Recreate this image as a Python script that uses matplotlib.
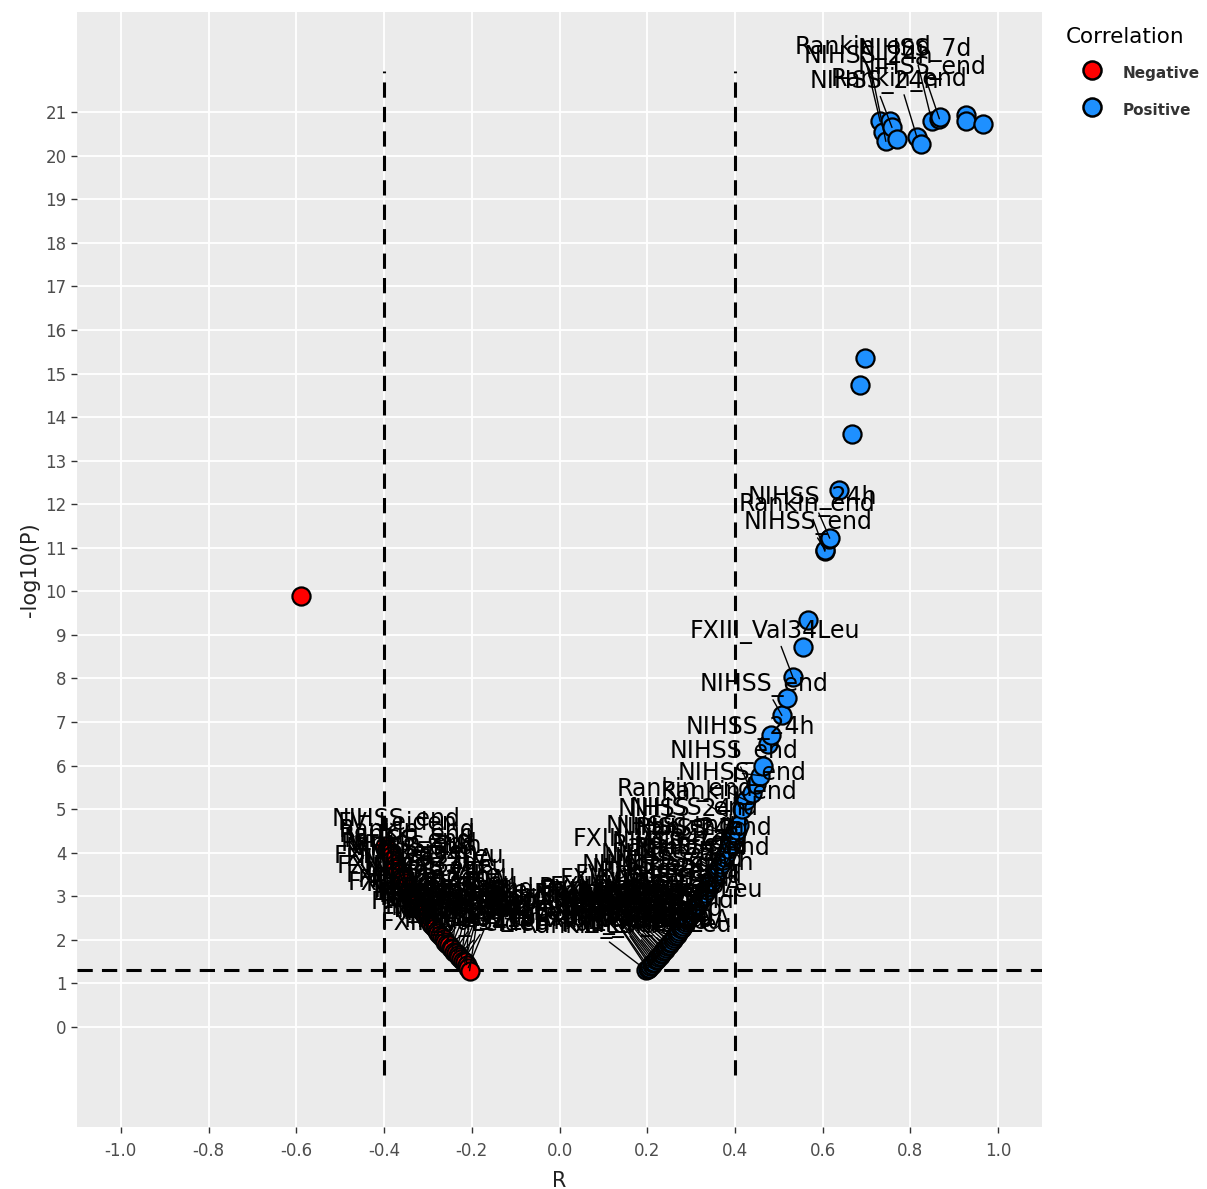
import matplotlib
matplotlib.use("Agg")
from matplotlib import pyplot as plt
from matplotlib.lines import Line2D

plt.rcParams['axes.unicode_minus'] = False

# negative correlations: R, -log10(P), label
neg_r = [-0.590,
         -0.397, -0.393, -0.389, -0.385, -0.381, -0.376, -0.372, -0.368, -0.364, -0.360,
         -0.356, -0.352, -0.348, -0.344, -0.340, -0.336, -0.332, -0.328, -0.324, -0.320,
         -0.316, -0.312, -0.308, -0.304, -0.300, -0.296, -0.292, -0.288, -0.284, -0.280,
         -0.276, -0.272, -0.268, -0.264, -0.260, -0.256, -0.252, -0.248, -0.244, -0.240,
         -0.236, -0.232, -0.228, -0.224, -0.220, -0.216, -0.212, -0.208, -0.205]
neg_p = [9.90,
         4.16, 4.08, 4.00, 3.92, 3.84, 3.75, 3.67, 3.59, 3.52, 3.45,
         3.37, 3.30, 3.23, 3.16, 3.09, 3.02, 2.96, 2.89, 2.83, 2.77,
         2.71, 2.65, 2.59, 2.53, 2.48, 2.42, 2.37, 2.31, 2.26, 2.21,
         2.16, 2.11, 2.06, 2.01, 1.96, 1.91, 1.87, 1.82, 1.78, 1.73,
         1.69, 1.64, 1.60, 1.56, 1.52, 1.48, 1.43, 1.36, 1.29]
neg_lab = ["",
           "Rankin_end", "NIHSS_end", "NIHSS_24h", "Rankin_end", "FV_Leiden",
           "FV_Leiden", "NIHSS_end", "NIHSS_7d", "FXIII_Val34Leu", "Rankin_end",
           "NIHSS_24h", "FII_G20210A", "NIHSS_end", "FXIII_Val34Leu", "NIHSS_7d",
           "Rankin_end", "FV_Leiden", "FXIII_Val34Leu", "NIHSS_24h", "FII_G20210A",
           "Rankin_end", "NIHSS_end", "FXIII_Val34Leu", "NIHSS_7d", "FV_Leiden",
           "Rankin_end", "FII_G20210A", "NIHSS_24h", "FXIII_Val34Leu", "NIHSS_end",
           "Rankin_end", "NIHSS_7d", "FXIII_Val34Leu", "FV_Leiden", "NIHSS_24h",
           "Rankin_end", "FII_G20210A", "NIHSS_end", "FXIII_Val34Leu", "NIHSS_7d",
           "Rankin_end", "FV_Leiden", "FXIII_Val34Leu", "NIHSS_24h", "Rankin_end",
           "FII_G20210A", "NIHSS_end", "FXIII_Val34Leu", "Rankin_end"]

# positive correlations
pos_r = [0.198, 0.201, 0.204, 0.207, 0.210, 0.213, 0.216, 0.219, 0.222, 0.225,
         0.228, 0.231, 0.234, 0.237, 0.240, 0.243, 0.246, 0.249, 0.252, 0.255,
         0.258, 0.261, 0.264, 0.267, 0.270, 0.273, 0.276, 0.279, 0.282, 0.285,
         0.288, 0.291, 0.294, 0.297, 0.300, 0.304, 0.308, 0.312, 0.316, 0.320,
         0.324, 0.328, 0.332, 0.336, 0.340, 0.344, 0.348, 0.352, 0.356, 0.360,
         0.364, 0.368, 0.372, 0.376, 0.380, 0.385, 0.390, 0.395, 0.400, 0.405,
         0.410,
         0.416, 0.426, 0.438, 0.447, 0.457, 0.463, 0.475, 0.483, 0.507, 0.518,
         0.532, 0.555, 0.566,
         0.605, 0.606, 0.615, 0.616, 0.637, 0.667, 0.685, 0.696,
         0.731, 0.737, 0.744, 0.753, 0.758, 0.769, 0.815, 0.824, 0.849, 0.866,
         0.868, 0.927, 0.927, 0.966]
pos_p = [1.30, 1.33, 1.36, 1.40, 1.43, 1.47, 1.50, 1.53, 1.56, 1.60,
         1.63, 1.67, 1.70, 1.74, 1.77, 1.81, 1.85, 1.88, 1.92, 1.96,
         2.00, 2.04, 2.08, 2.12, 2.16, 2.20, 2.24, 2.28, 2.32, 2.36,
         2.41, 2.45, 2.50, 2.54, 2.59, 2.65, 2.70, 2.76, 2.82, 2.89,
         2.95, 3.01, 3.08, 3.15, 3.22, 3.29, 3.36, 3.44, 3.51, 3.59,
         3.66, 3.74, 3.82, 3.90, 3.98, 4.08, 4.19, 4.30, 4.41, 4.52,
         4.63,
         5.01, 5.20, 5.38, 5.57, 5.77, 6.00, 6.49, 6.70, 7.15, 7.54,
         8.03, 8.72, 9.34,
         10.92, 10.95, 11.20, 11.22, 12.33, 13.62, 14.74, 15.36,
         20.79, 20.54, 20.33, 20.79, 20.65, 20.38, 20.42, 20.26, 20.79, 20.85,
         20.90, 20.93, 20.79, 20.74]
pos_lab = ["Rankin_end", "FII_G20210A", "NIHSS_24h", "FXIII_Val34Leu", "Rankin_end",
           "FV_Leiden", "NIHSS_7d", "FXIII_Val34Leu", "Rankin_end", "NIHSS_end",
           "FII_G20210A", "FXIII_Val34Leu", "NIHSS_24h", "Rankin_end", "FV_Leiden",
           "NIHSS_7d", "FXIII_Val34Leu", "NIHSS_end", "Rankin_end", "FII_G20210A",
           "NIHSS_24h", "FXIII_Val34Leu", "Rankin_end", "NIHSS_7d", "FV_Leiden",
           "NIHSS_end", "FXIII_Val34Leu", "Rankin_end", "NIHSS_24h", "FII_G20210A",
           "NIHSS_7d", "FXIII_Val34Leu", "Rankin_end", "NIHSS_end", "FV_Leiden",
           "NIHSS_24h", "FXIII_Val34Leu", "Rankin_end", "NIHSS_7d", "NIHSS_end",
           "FII_G20210A", "NIHSS_24h", "FXIII_Val34Leu", "Rankin_end", "NIHSS_7d",
           "NIHSS_end", "NIHSS_24h", "FXIII_Val34Leu", "NIHSS_end", "NIHSS_7d",
           "NIHSS_24h", "Rankin_end", "NIHSS_end", "NIHSS_7d", "NIHSS_24h",
           "Rankin_end", "NIHSS_7d", "NIHSS_24h", "Rankin_end", "NIHSS_end",
           "Rankin_end",
           "", "Rankin_end", "NIHSS_end", "", "NIHSS_end", "",
           "NIHSS_24h", "", "NIHSS_end", "", "FXIII_Val34Leu", "", "",
           "Rankin_end", "NIHSS_end", "", "NIHSS_24h", "", "", "", "",
           "Rankin_end", "", "NIHSS_24h", "", "NIHSS_24h", "", "Rankin_end", "",
           "NIHSS_7d", "NIHSS_end", "", "", "", ""]

RED = '#FF0000'
BLUE = '#1E90FF'


def spread(i, a):
    return ((i * a) % 1.0) - 0.5


def label_points(ax, rs, ps, labs, side):
    for i, (r, p, lab) in enumerate(zip(rs, ps, labs)):
        if not lab:
            continue
        if p < 4.7:
            # crowded region near the threshold: labels pile up in a band above
            shift = -0.095 if side > 0 else 0.04
            lx = r + shift + 0.07 * spread(i, 0.618)
            ly = max(p + 0.45, 2.75) + 0.9 * spread(i, 0.382)
        else:
            lx = r - 0.04
            ly = p + 0.6 + 0.07 * (p - 8) + 1.2 * spread(i, 0.618)
        ax.annotate(lab, xy=(r, p), xytext=(lx, ly), ha='center', va='center',
                    fontsize=17, color='black', zorder=5,
                    arrowprops=dict(arrowstyle='-', color='black', lw=1.0,
                                    shrinkA=0, shrinkB=0))


fig = plt.figure(figsize=(12.07, 11.89), dpi=100)
ax = fig.add_axes([0.0638, 0.0521, 0.7995, 0.9378])
ax.set_facecolor('#EBEBEB')
for s in ax.spines.values():
    s.set_visible(False)
ax.grid(True, color='white', linewidth=1.3)
ax.set_axisbelow(True)

ax.scatter(neg_r, neg_p, s=170, c=RED, edgecolors='black', linewidths=1.6, zorder=3)
ax.scatter(pos_r, pos_p, s=170, c=BLUE, edgecolors='black', linewidths=1.6, zorder=3)

label_points(ax, neg_r, neg_p, neg_lab, -1)
label_points(ax, pos_r, pos_p, pos_lab, 1)

# thresholds
ax.vlines([-0.4, 0.4], -1.1, 21.95, colors='black', linestyles=(0, (5, 3)), lw=2.2, zorder=2)
ax.axhline(1.3, color='black', linestyle=(0, (5, 3)), lw=2.2, zorder=2)

ax.set_xlim(-1.1, 1.1)
ax.set_ylim(-2.3, 23.3)
ax.set_xticks([-1.0, -0.8, -0.6, -0.4, -0.2, 0.0, 0.2, 0.4, 0.6, 0.8, 1.0])
ax.set_xticklabels(['%.1f' % v for v in ax.get_xticks()], family='Liberation Sans Narrow',
                   fontsize=13)
ax.set_yticks(range(0, 22))
ax.tick_params(axis='both', colors='#333333', labelcolor='#4D4D4D', labelsize=12,
               length=4, width=1)
ax.tick_params(axis='x', pad=7)
ax.set_xlabel('R', fontsize=15, color='#222222', labelpad=8)
ax.set_ylabel('-log10(P)', fontsize=15, color='#222222')

handles = [Line2D([], [], marker='o', linestyle='', markersize=13, markerfacecolor=RED,
                  markeredgecolor='black', markeredgewidth=1.8),
           Line2D([], [], marker='o', linestyle='', markersize=13, markerfacecolor=BLUE,
                  markeredgecolor='black', markeredgewidth=1.8)]
leg = fig.legend(handles, ['Negative', 'Positive'], title='Correlation',
                 loc='upper left', bbox_to_anchor=(0.8745, 0.986), frameon=False,
                 prop={'size': 11, 'weight': 'bold'}, title_fontsize=15.5,
                 labelspacing=1.0, handlelength=3.4, handleheight=1.8,
                 handletextpad=0.3, borderpad=0.2)
leg.set_alignment('left')
for t in leg.get_texts():
    t.set_color('#333333')

fig.savefig('out.png', dpi=100)
